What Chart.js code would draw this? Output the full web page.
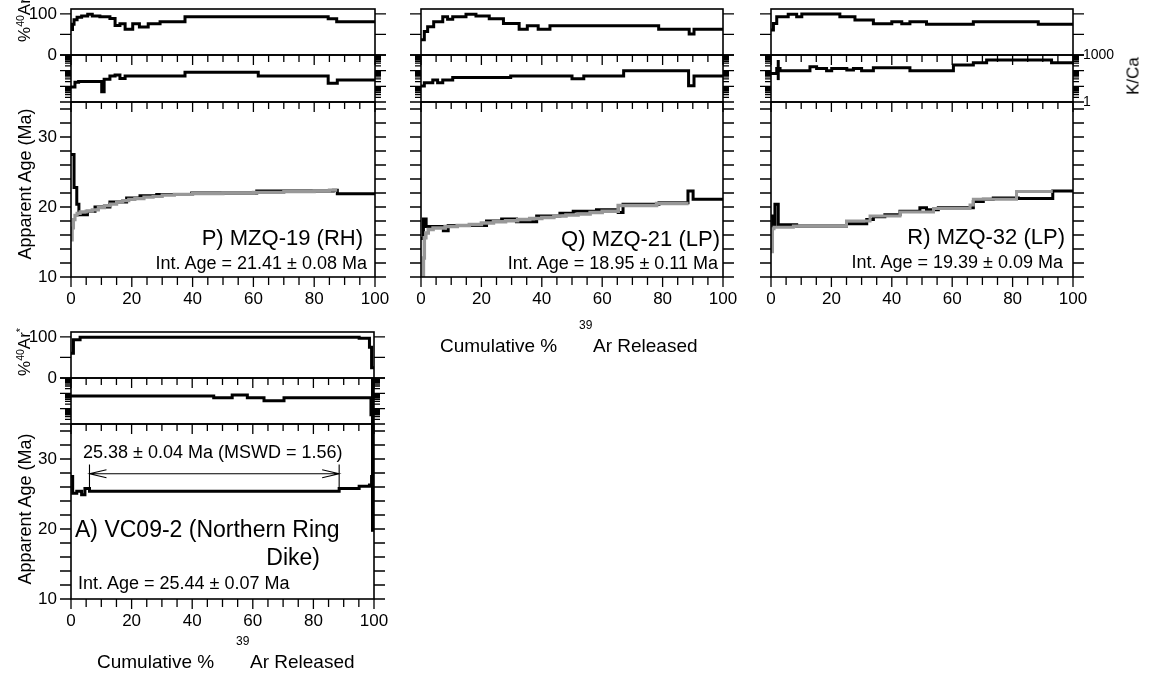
<!DOCTYPE html>
<html>
<head>
<meta charset="utf-8">
<script src="https://cdn.jsdelivr.net/npm/chart.js@4.4.1/dist/chart.umd.min.js"></script>
<style>
  html, body { margin: 0; padding: 0; background: #fff; }
  #fig { position: relative; width: 1149px; height: 676px; overflow: hidden;
         font-family: 'Liberation Sans', Arial, Helvetica, sans-serif; color: #000; }
  #fig canvas { position: absolute; }
  .t { position: absolute; white-space: nowrap; line-height: 1; }
  .t sup { font-size: 0.62em; vertical-align: 0.55em; line-height: 0; }
</style>
</head>
<body>
<div id="fig"></div>
<script>
// ---------------------------------------------------------------------------
// Step-heating spectra. Each step: cumulative % 39Ar boundaries (n+1) and the
// value of each step (n). "Rep" series are the grey replicate spectra.
// ---------------------------------------------------------------------------

// P) MZQ-19 (RH)
const pArCum   = [0, 0.5, 1.0, 2.0, 3.5, 5.5, 7.0, 9.5, 12.8, 14.5, 16.1, 17.8, 20.3, 22.5, 25.4, 29.3, 37.5, 84.6, 87.4, 100];
const pAr      = [62, 75, 86, 92, 95, 99, 95, 93, 89, 72, 76, 63, 76, 68, 76, 81, 93, 88, 81];
const pKCaCum  = [0, 1.3, 2.5, 10.1, 10.9, 12.8, 14.5, 16.1, 17.8, 37.5, 61.6, 84.6, 87.6, 100];
const pKCa     = [9, 18, 20, 4.5, 28, 45, 52, 32, 45, 78, 45, 15.5, 25];
const pAgeCum  = [0, 1.0, 1.9, 2.6, 5.4, 7.9, 12.8, 18.3, 22.7, 28.2, 39.7, 61.1, 86.3, 87.6, 100];
const pAge     = [27.5, 22.8, 20.4, 18.9, 19.4, 20.0, 20.7, 21.3, 21.6, 21.8, 22.0, 22.3, 22.4, 21.9];
const pRepCum  = [0, 0.4, 0.8, 1.3, 2.0, 3.0, 5.0, 7.0, 9.0, 11.0, 13.0, 15.0, 17.0, 19.0, 21.0, 24.0, 27.0, 30.0, 34.0, 40.0, 50.0, 60.0, 70.0, 80.0, 85.0, 87.6];
const pRep     = [15.3, 17.0, 18.2, 18.8, 19.1, 19.3, 19.4, 19.6, 19.9, 20.2, 20.4, 20.7, 20.9, 21.1, 21.2, 21.4, 21.5, 21.7, 21.8, 21.9, 22.0, 22.1, 22.2, 22.3, 22.4];

// Q) MZQ-21 (LP)
const qArCum   = [0, 1.1, 2.2, 4.2, 7.2, 8.8, 10.5, 14.9, 18.2, 22.6, 27.3, 32.5, 35.2, 38.8, 42.7, 78.7, 88.8, 90.4, 100];
const qAr      = [37, 57, 69, 81, 93, 87, 93, 99, 95, 88, 77, 63, 71, 63, 71, 63, 51, 63];
const qKCaCum  = [0, 1.1, 3.9, 5.5, 7.2, 10.5, 29.7, 50.0, 53.9, 67.1, 88.6, 90.4, 100];
const qKCa     = [10.5, 17, 25, 17, 25, 37, 45, 30, 45, 98, 11, 45];
const qAgeCum  = [0, 0.8, 1.7, 7.4, 9.0, 21.7, 26.7, 31.6, 38.3, 46.0, 50.4, 58.1, 65.3, 66.9, 78.8, 88.4, 90.1, 100];
const qAge     = [15.5, 18.3, 17.2, 16.6, 17.35, 18.0, 18.3, 17.9, 18.7, 19.1, 19.4, 19.6, 19.2, 20.4, 20.6, 22.3, 21.1];
const qRepCum  = [0.5, 0.8, 1.1, 1.6, 2.4, 4.0, 8, 12, 16, 20, 24, 28, 32, 36, 40, 44, 48, 52, 56, 60, 65.3, 78, 88.6];
const qRep     = [10.0, 12.7, 15.6, 16.3, 16.8, 17.0, 17.2, 17.35, 17.5, 17.7, 17.9, 18.05, 18.2, 18.35, 18.5, 18.7, 18.85, 19.0, 19.2, 19.4, 20.2, 20.5];

// R) MZQ-32 (LP)
const rArCum   = [0, 0.8, 1.9, 5.7, 8.5, 10.2, 22.8, 27.8, 33.9, 40.0, 43.3, 46.0, 51.5, 67.0, 88.5, 100];
const rAr      = [61, 77, 93, 99, 93, 100, 93, 85, 76, 81, 76, 81, 75, 81, 75];
const rKCaCum  = [0, 1.9, 3.0, 12.9, 15.1, 18.4, 20.1, 25.1, 27.3, 30.0, 33.9, 46.0, 60.4, 67.0, 71.4, 92.9, 100];
const rKCa     = [67, 140, 98, 178, 140, 98, 140, 110, 140, 98, 155, 98, 228, 320, 475, 320];
const rKCaErr  = [2.4, 25, 480];            // [cum %, low, high]
const rAgeCum  = [0, 0.55, 1.3, 2.4, 8.5, 25.0, 31.7, 33.9, 37.7, 42.7, 49.3, 51.5, 55.4, 67.0, 70.3, 73.6, 81.9, 93.3, 100];
const rAge     = [18.7, 17.2, 20.4, 17.45, 17.3, 17.6, 18.2, 18.6, 18.9, 19.4, 19.9, 19.6, 19.9, 20.8, 21.1, 21.3, 21.2, 22.3];
const rRepCum  = [0, 0.5, 1.0, 7.4, 25.0, 32.8, 42.7, 53.8, 65.9, 67.0, 81.3, 93.3];
const rRep     = [13.6, 16.9, 17.1, 17.3, 18.0, 18.7, 19.3, 19.8, 20.3, 21.1, 22.2];

// A) VC09-2 (Northern Ring Dike)
const aArCum   = [0, 0.8, 3.0, 95.1, 98.5, 99.2, 100];
const aAr      = [60, 93, 99, 97, 75, 25];
const aKCaCum  = [0, 47.1, 53.2, 58.2, 63.7, 70.3, 99.0, 100];
const aKCa     = [67, 52, 78, 52, 33, 52, 4];
const aKCaErr  = [99.5, 0.5, 2000];
const aAgeCum  = [0, 0.55, 1.9, 3.5, 4.6, 6.1, 88.5, 95.1, 98.5, 99.2, 100];
const aAge     = [27.5, 25.1, 25.4, 24.9, 25.8, 25.4, 25.8, 26.1, 26.3, 27.5];
const aAgeErr  = [99.5, 19.6, 40];
// plateau: steps from 6.1 to 88.5 % 39Ar, 25.38 Ma
const plateauFrom = 6.1, plateauTo = 88.5, plateauAge = 25.38, plateauArrowAge = 27.9, plateauBarTop = 29.2;

// Axis ticks and labels
const xTicks    = [0, 5, 10, 15, 20, 25, 30, 35, 40, 45, 50, 55, 60, 65, 70, 75, 80, 85, 90, 95, 100];
const xLabels   = [0, 20, 40, 60, 80, 100];
const arTicks   = [0, 50, 100];
const arLabels  = [0, 100];
const kcaTicks  = [1, 2, 3, 4, 5, 6, 7, 8, 9, 10, 20, 30, 40, 50, 60, 70, 80, 90, 100, 200, 300, 400, 500, 600, 700, 800, 900, 1000];
const kcaMajor  = [1, 10, 100, 1000];
const kcaLabels = [1, 1000];
const ageTicks  = [10, 12, 14, 16, 18, 20, 22, 24, 26, 28, 30, 32, 34];
const ageLabels = [10, 20, 30];

// Text
const sampleNames = ['P) MZQ-19 (RH)', 'Q) MZQ-21 (LP)', 'R) MZQ-32 (LP)'];
const intAges     = ['21.41 ± 0.08', '18.95 ± 0.11', '19.39 ± 0.09', '25.44 ± 0.07'];

// ---------------------------------------------------------------------------
const fig = document.getElementById('fig');
const BLACK = '#000', GREY = '#989898';
const FONT = "'Liberation Sans', Arial, Helvetica, sans-serif";
const PADL = 62, PADR = 62, PADT = 14, PADB = 14, AXIS_B = 46;

function steps(cum, vals) {
  const pts = vals.map((v, i) => ({ x: cum[i], y: v }));
  pts.push({ x: cum[cum.length - 1], y: vals[vals.length - 1] });
  return pts;
}
// 'before' in Chart.js keeps each point's value until the next point
function stepSet(cum, vals, color, width, order) {
  return { data: steps(cum, vals), stepped: 'before', borderColor: color, borderWidth: width,
           pointRadius: 0, fill: false, clip: 0, order: order, borderJoinStyle: 'miter' };
}
function errSet(e) {
  return { data: [{ x: e[0], y: e[1] }, { x: e[0], y: e[2] }], borderColor: BLACK, borderWidth: 3,
           pointRadius: 0, fill: false, clip: 0, order: 1 };
}

// Frame plus tick marks (outward on left/right/bottom, inward along the top)
const frameTicks = {
  id: 'frameTicks',
  afterDraw(chart, args, o) {
    const { ctx, chartArea: a } = chart;
    const xs = chart.scales.x, ys = chart.scales.y;
    ctx.save();
    ctx.strokeStyle = BLACK;
    ctx.lineWidth = 1.3;
    ctx.beginPath();
    o.ticks.forEach(v => {
      const p = ys.getPixelForValue(v);
      const len = o.major.includes(v) ? 11 : 6;
      ctx.moveTo(a.left - len, p); ctx.lineTo(a.left, p);
      ctx.moveTo(a.right, p); ctx.lineTo(a.right + len, p);
    });
    xTicks.forEach(v => {
      const p = xs.getPixelForValue(v);
      const major = xLabels.includes(v);
      if (o.top) { ctx.moveTo(p, a.top); ctx.lineTo(p, a.top + (major ? 10 : 7)); }
      if (o.bottom) { ctx.moveTo(p, a.bottom); ctx.lineTo(p, a.bottom + (major ? 10 : 8)); }
    });
    ctx.stroke();
    ctx.lineWidth = 1.6;
    ctx.strokeRect(a.left, a.top, a.right - a.left, a.bottom - a.top);
    ctx.restore();
  }
};

// Plateau bracket with open arrowheads
const plateauMarker = {
  id: 'plateauMarker',
  afterDatasetsDraw(chart, args, o) {
    if (!o.show) return;
    const { ctx } = chart;
    const xs = chart.scales.x, ys = chart.scales.y;
    const xa = xs.getPixelForValue(o.from), xb = xs.getPixelForValue(o.to);
    const yl = ys.getPixelForValue(o.arrowAge);
    const y0 = ys.getPixelForValue(o.age), y1 = ys.getPixelForValue(o.barTop);
    ctx.save();
    ctx.strokeStyle = BLACK;
    ctx.lineWidth = 1.1;
    ctx.beginPath();
    ctx.moveTo(xa, y0); ctx.lineTo(xa, y1);
    ctx.moveTo(xb, y0); ctx.lineTo(xb, y1);
    ctx.moveTo(xa, yl); ctx.lineTo(xb, yl);
    ctx.moveTo(xa + 17, yl - 4); ctx.lineTo(xa, yl); ctx.lineTo(xa + 17, yl + 4);
    ctx.moveTo(xb - 17, yl - 4); ctx.lineTo(xb, yl); ctx.lineTo(xb - 17, yl + 4);
    ctx.stroke();
    ctx.restore();
  }
};

const KIND = {
  ar:  { type: 'linear',      min: 0,  max: 112,  ticks: arTicks,  major: arTicks,  labels: arLabels },
  kca: { type: 'logarithmic', min: 1,  max: 1000, ticks: kcaTicks, major: kcaMajor, labels: kcaLabels },
  age: { type: 'linear',      min: 10, max: 35,   ticks: ageTicks, major: ageTicks, labels: ageLabels }
};

function yScale(k, pos, show, size) {
  return {
    type: k.type, min: k.min, max: k.max, position: pos, display: true,
    afterFit: s => { s.width = pos === 'left' ? PADL : PADR; },
    afterBuildTicks: s => { s.ticks = k.labels.map(v => ({ value: v })); },
    ticks: { display: show, color: BLACK, font: { family: FONT, size: size }, padding: pos === 'left' ? 3 : 1,
             autoSkip: false, callback: v => String(v) },
    grid: { color: 'rgba(0,0,0,0)', drawOnChartArea: false, drawTicks: true, tickLength: pos === 'left' ? 11 : 9 },
    border: { display: false }
  };
}
function xScale(show) {
  return {
    type: 'linear', min: 0, max: 100, position: 'bottom', display: show,
    afterFit: s => { s.height = show ? AXIS_B : 0; },
    afterBuildTicks: s => { s.ticks = xLabels.map(v => ({ value: v })); },
    ticks: { color: BLACK, font: { family: FONT, size: 17 }, padding: 2, autoSkip: false, maxRotation: 0,
             callback: v => String(v) },
    grid: { color: 'rgba(0,0,0,0)', drawOnChartArea: false, tickLength: 10 },
    border: { display: false }
  };
}

function subplot(p, kind, yTop, yBot, datasets, plateau) {
  const k = KIND[kind];
  const isAge = kind === 'age';
  const w = p.x1 - p.x0 + PADL + PADR;
  const h = yBot - yTop + PADT + (isAge ? AXIS_B : PADB);
  const cv = document.createElement('canvas');
  cv.width = w; cv.height = h;
  Object.assign(cv.style, { left: (p.x0 - PADL) + 'px', top: (yTop - PADT) + 'px', width: w + 'px', height: h + 'px' });
  fig.appendChild(cv);
  return new Chart(cv, {
    type: 'line',
    data: { datasets: datasets },
    options: {
      responsive: false, animation: false, devicePixelRatio: 1, events: [],
      layout: { padding: { top: PADT, bottom: isAge ? 0 : PADB, left: 0, right: 0 } },
      plugins: {
        legend: { display: false }, tooltip: { enabled: false },
        frameTicks: { ticks: k.ticks, major: k.major, top: kind !== 'ar', bottom: isAge },
        plateauMarker: plateau || { show: false }
      },
      scales: {
        x: xScale(isAge),
        y: yScale(k, 'left', p.leftLabels && kind !== 'kca', 17),
        y2: yScale(k, 'right', p.kcaLabels && kind === 'kca', 14)
      }
    },
    plugins: [frameTicks, plateauMarker]
  });
}

const ROW1 = [9, 55, 102, 277];
const ROW2 = [332, 378, 424, 599];

const panels = [
  { x0: 71, x1: 375, rows: ROW1, leftLabels: true, kcaLabels: false,
    ar: [stepSet(pArCum, pAr, BLACK, 3, 1)],
    kca: [stepSet(pKCaCum, pKCa, BLACK, 3, 1)],
    age: [stepSet(pRepCum, pRep, GREY, 3.2, 0), stepSet(pAgeCum, pAge, BLACK, 3, 1)] },
  { x0: 421, x1: 723, rows: ROW1, leftLabels: false, kcaLabels: false,
    ar: [stepSet(qArCum, qAr, BLACK, 3, 1)],
    kca: [stepSet(qKCaCum, qKCa, BLACK, 3, 1)],
    age: [stepSet(qRepCum, qRep, GREY, 3.5, 0), stepSet(qAgeCum, qAge, BLACK, 3, 1)] },
  { x0: 771, x1: 1073, rows: ROW1, leftLabels: false, kcaLabels: true,
    ar: [stepSet(rArCum, rAr, BLACK, 3, 1)],
    kca: [stepSet(rKCaCum, rKCa, BLACK, 3, 1), errSet(rKCaErr)],
    age: [stepSet(rRepCum, rRep, GREY, 3, 0), stepSet(rAgeCum, rAge, BLACK, 3, 1)] },
  { x0: 71, x1: 374, rows: ROW2, leftLabels: true, kcaLabels: false,
    ar: [stepSet(aArCum, aAr, BLACK, 3, 1)],
    kca: [stepSet(aKCaCum, aKCa, BLACK, 3, 1), errSet(aKCaErr)],
    age: [stepSet(aAgeCum, aAge, BLACK, 3, 1), errSet(aAgeErr)],
    plateau: { show: true, from: plateauFrom, to: plateauTo, age: plateauAge, arrowAge: plateauArrowAge, barTop: plateauBarTop } }
];

panels.forEach(p => {
  subplot(p, 'ar',  p.rows[0], p.rows[1], p.ar);
  subplot(p, 'kca', p.rows[1], p.rows[2], p.kca);
  subplot(p, 'age', p.rows[2], p.rows[3], p.age, p.plateau);
});

// ---------------------------------------------------------------------------
// Titles and annotations
function label(html, x, y, size, align, rot) {
  const d = document.createElement('div');
  d.className = 't';
  d.innerHTML = html;
  d.style.fontSize = size + 'px';
  d.style.left = x + 'px';
  d.style.top = y + 'px';
  const tx = rot ? '-50%' : align === 'right' ? '-100%' : align === 'center' ? '-50%' : '0';
  d.style.transform = 'translate(' + tx + ', -50%)' + (rot ? ' rotate(-90deg)' : '');
  fig.appendChild(d);
}

const arTitle = '%<sup>40</sup>Ar<sup>*</sup>';
label(arTitle, 24, 18, 17, 'center', true);
label(arTitle, 24, 352, 17, 'center', true);
label('Apparent Age (Ma)', 25, 184, 18, 'center', true);
label('Apparent Age (Ma)', 25, 509, 18, 'center', true);
label('K/Ca', 1133, 76, 17, 'center', true);

label(sampleNames[0], 363, 238, 22, 'right');
label('Int. Age = ' + intAges[0] + ' Ma', 367, 263, 18, 'right');
label(sampleNames[1], 720, 239, 22, 'right');
label('Int. Age = ' + intAges[1] + ' Ma', 718, 263, 18, 'right');
label(sampleNames[2], 1065, 237, 22, 'right');
label('Int. Age = ' + intAges[2] + ' Ma', 1063, 262, 18, 'right');

label(plateauAge.toFixed(2) + ' ± 0.04 Ma (MSWD = 1.56)', 83, 452, 18, 'left');
label('A) VC09-2 (Northern Ring', 75, 529, 23, 'left');
label('Dike)', 320, 557, 23, 'right');
label('Int. Age = ' + intAges[3] + ' Ma', 78, 583, 18, 'left');

// x-axis titles
function xTitle(x, y) {
  label('Cumulative %', x, y, 19, 'left');
  label('39', x + 139, y - 20, 12, 'left');
  label('Ar Released', x + 153, y, 19, 'left');
}
xTitle(440, 345);
xTitle(97, 661);
</script>
</body>
</html>
